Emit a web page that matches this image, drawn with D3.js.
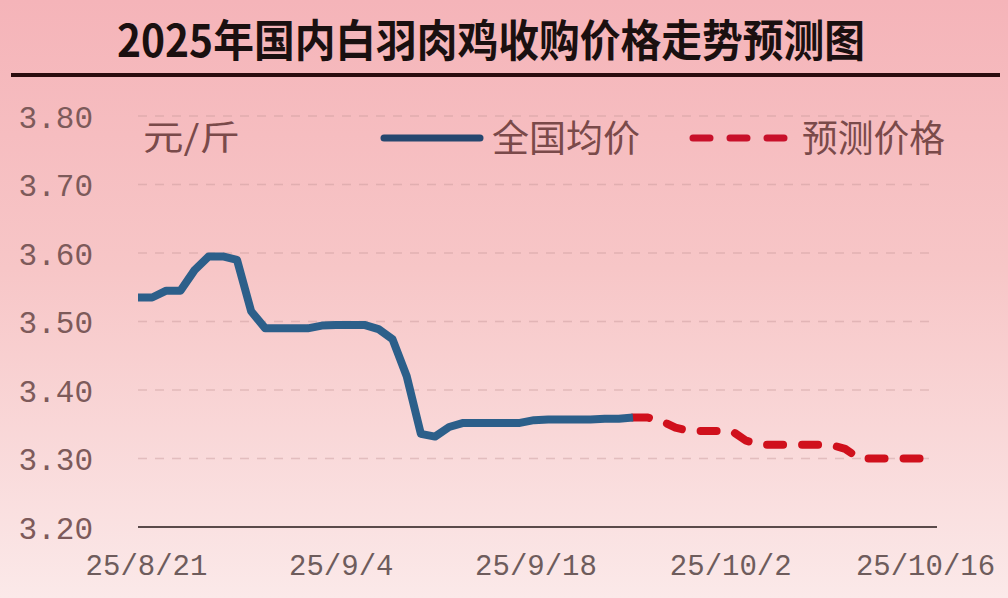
<!DOCTYPE html>
<html><head><meta charset="utf-8">
<script src="https://cdn.jsdelivr.net/npm/d3@7/dist/d3.min.js"></script>
<style>
html,body{margin:0;padding:0;background:#f7c6c8;}
svg{display:block;}
</style></head>
<body>
<svg id="chart" width="1008" height="598"></svg>
<script>
const titleText = "2025年国内白羽肉鸡收购价格走势预测图";
const unitText = "元/斤";
const seriesNames = ["全国均价", "预测价格"];
const startDate = "2025-08-21";
const xTickLabels = ["25/8/21", "25/9/4", "25/9/18", "25/10/2", "25/10/16"];
const xTickDays = [0, 14, 28, 42, 56];
const yTicks = [3.20, 3.30, 3.40, 3.50, 3.60, 3.70, 3.80];
// daily national average (8/21 .. 9/25)
const actualValues = [3.535,3.535,3.545,3.545,3.575,3.595,3.595,3.590,3.515,3.490,
  3.490,3.490,3.490,3.494,3.495,3.495,3.495,3.489,3.474,3.420,
  3.336,3.332,3.346,3.352,3.352,3.352,3.352,3.352,3.356,3.357,
  3.357,3.357,3.357,3.358,3.358,3.360];
// daily forecast (9/25 .. 10/16)
const forecastValues = [3.360,3.360,3.355,3.345,3.340,3.340,3.340,3.340,3.326,3.320,
  3.320,3.320,3.320,3.320,3.320,3.314,3.300,3.300,3.300,3.300,3.300,3.300];

const svg = d3.select("#chart");
const W = 1008, H = 598;
const day0 = new Date(startDate + "T00:00:00");
const dayDate = i => d3.timeDay.offset(day0, i);

const actual = actualValues.map((v, i) => ({d: dayDate(i), v}));
const fOffset = actualValues.length - 1;
const forecast = forecastValues.map((v, i) => ({d: dayDate(fOffset + i), v}));

const x = d3.scaleTime().domain([dayDate(0), dayDate(56)]).range([138, 930]);
const xLabel = d3.scaleTime().domain([dayDate(0), dayDate(56)]).range([146, 925]);
const y = d3.scaleLinear().domain([3.2, 3.8]).range([527, 116]);

// background gradient
const defs = svg.append("defs");
const g1 = defs.append("linearGradient").attr("id","bg").attr("x1",0).attr("y1",0).attr("x2",0).attr("y2",1);
g1.append("stop").attr("offset","0%").attr("stop-color","#f5b4b9");
g1.append("stop").attr("offset","45%").attr("stop-color","#f7c6c7");
g1.append("stop").attr("offset","100%").attr("stop-color","#fbe9e9");
svg.append("rect").attr("width",W).attr("height",H).attr("fill","url(#bg)");

// title
svg.append("text").attr("x", 491).attr("y", 57).attr("text-anchor","middle")
  .attr("font-family","'Noto Sans CJK SC', sans-serif").attr("font-weight",700)
  .attr("font-size",44).attr("fill","#1a1010").attr("textLength",748).attr("lengthAdjust","spacingAndGlyphs")
  .text(titleText);
svg.append("line").attr("x1",11).attr("x2",1000).attr("y1",75).attr("y2",75)
  .attr("stroke","#2a0c0e").attr("stroke-width",4);

// gridlines
svg.append("g").selectAll("line").data(yTicks.filter(t => t > 3.2)).join("line")
  .attr("x1",138).attr("x2",937).attr("y1",d=>y(d)).attr("y2",d=>y(d))
  .attr("stroke","#c89a9c").attr("stroke-opacity",0.45).attr("stroke-width",1.5)
  .attr("stroke-dasharray","9,8");

// x axis baseline
svg.append("line").attr("x1",138).attr("x2",937).attr("y1",y(3.2)).attr("y2",y(3.2))
  .attr("stroke","#5a4a4a").attr("stroke-width",2);

// y tick labels
const yAxis = d3.axisLeft(y).tickValues(yTicks).tickFormat(d3.format(".2f")).tickSize(0).tickPadding(0);
const yg = svg.append("g").attr("transform","translate(93,0)").call(yAxis);
yg.select(".domain").remove();
yg.selectAll("text").attr("font-family","'Liberation Mono', 'DejaVu Sans Mono', monospace")
  .attr("font-size",31).attr("fill","#7d5a5a").attr("dy","0.36em");

// x tick labels
const xAxis = d3.axisBottom(xLabel).tickValues(xTickDays.map(dayDate))
  .tickFormat((d, i) => xTickLabels[i]).tickSize(0).tickPadding(0);
const xg = svg.append("g").attr("transform","translate(0,575)").call(xAxis);
xg.select(".domain").remove();
xg.selectAll("text").attr("font-family","'Liberation Mono', 'DejaVu Sans Mono', monospace")
  .attr("font-size",30).attr("fill","#6e5c5c").attr("dy","0").attr("y",0)
  .attr("textLength", (d, i) => xTickLabels[i].length * 17.4).attr("lengthAdjust","spacingAndGlyphs");

// lines
const line = d3.line().x(d => x(d.d)).y(d => y(d.v));
svg.append("path").datum(forecast).attr("d", line).attr("fill","none")
  .attr("stroke","#d0101c").attr("stroke-width",8).attr("stroke-linecap","round").attr("stroke-linejoin","round")
  .attr("stroke-dasharray","16,19");
svg.append("path").datum(actual).attr("d", line).attr("fill","none")
  .attr("stroke","#2c5f8a").attr("stroke-width",8).attr("stroke-linejoin","round");

// unit label
svg.append("text").attr("x",143).attr("y",150)
  .attr("font-family","'Noto Sans CJK SC', sans-serif").attr("font-size",34).attr("fill","#7a4a4a")
  .attr("textLength",97).attr("lengthAdjust","spacingAndGlyphs")
  .text(unitText);

// legend
svg.append("line").attr("x1",384).attr("x2",480).attr("y1",138).attr("y2",138)
  .attr("stroke","#25476f").attr("stroke-width",7).attr("stroke-linecap","round");
svg.append("text").attr("x",492).attr("y",152)
  .attr("font-family","'Noto Sans CJK SC', sans-serif").attr("font-size",37).attr("fill","#7a4a4a")
  .attr("textLength",148).attr("lengthAdjust","spacingAndGlyphs")
  .text(seriesNames[0]);
svg.append("line").attr("x1",693).attr("x2",787).attr("y1",138).attr("y2",138)
  .attr("stroke","#c8102a").attr("stroke-width",7).attr("stroke-linecap","round")
  .attr("stroke-dasharray","17,20");
svg.append("text").attr("x",802).attr("y",152)
  .attr("font-family","'Noto Sans CJK SC', sans-serif").attr("font-size",37).attr("fill","#7a4a4a")
  .attr("textLength",143).attr("lengthAdjust","spacingAndGlyphs")
  .text(seriesNames[1]);
</script>
</body></html>
